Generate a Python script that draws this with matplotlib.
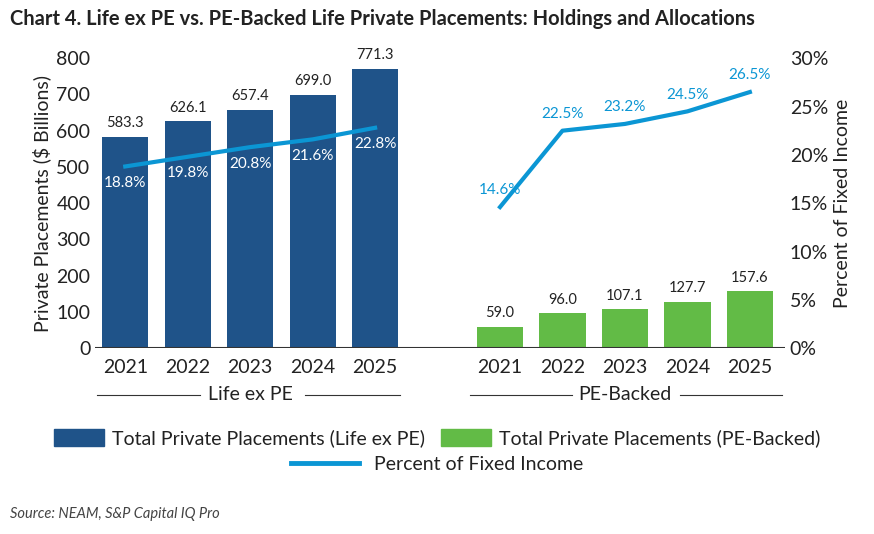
import matplotlib.pyplot as plt
from matplotlib.patches import Patch
from matplotlib.lines import Line2D

years = ["2021", "2022", "2023", "2024", "2025"]
life_pp = [583.3, 626.1, 657.4, 699.0, 771.3]
life_pct = [18.8, 19.8, 20.8, 21.6, 22.8]
pe_pp = [59.0, 96.0, 107.1, 127.7, 157.6]
pe_pct = [14.6, 22.5, 23.2, 24.5, 26.5]

navy = "#1f5389"
green = "#62bb46"
cyan = "#0b96d4"
txt = "#222222"

plt.rcParams['font.family'] = ['Lato', 'DejaVu Sans']
fig = plt.figure(figsize=(8.74, 5.34), dpi=100)
ax = fig.add_axes([0.109, 0.348, 0.789, 0.543])
ax2 = ax.twinx()

x_life = [0, 1, 2, 3, 4]
x_pe = [6, 7, 8, 9, 10]
w = 0.74
ax.bar(x_life, life_pp, w, color=navy, zorder=2)
ax.bar(x_pe, pe_pp, w, color=green, zorder=2)
for x, v in zip(x_life + x_pe, life_pp + pe_pp):
    ax.text(x, v + 18, f"{v:.1f}", ha="center", va="bottom", fontsize=10.5, color=txt)

ax2.plot(x_life, life_pct, color=cyan, lw=3, zorder=3)
ax2.plot(x_pe, pe_pct, color=cyan, lw=3, zorder=3)
for x, v in zip(x_life, life_pct):
    ax2.text(x, v - 1.0, f"{v:.1f}%", ha="center", va="top", fontsize=11, color="white", zorder=4)
for x, v in zip(x_pe, pe_pct):
    ax2.text(x, v + 1.0, f"{v:.1f}%", ha="center", va="bottom", fontsize=11, color=cyan, zorder=4)

ax.set_xlim(-0.48, 10.56)
ax.set_ylim(0, 800)
ax2.set_ylim(0, 30)
ax.set_yticks(range(0, 801, 100))
ax2.set_yticks(range(0, 31, 5))
ax2.set_yticklabels([f"{t}%" for t in range(0, 31, 5)])
ax.set_xticks(x_life + x_pe)
ax.set_xticklabels(years + years)
for a in (ax, ax2):
    a.tick_params(length=0, labelsize=14, colors=txt)
    for s in ("top", "left", "right", "bottom"):
        a.spines[s].set_visible(False)
ax.axhline(0, color="#333333", lw=1.5, zorder=5)
ax.tick_params(axis="x", pad=8)
ax.set_ylabel("Private Placements ($ Billions)", fontsize=14, color=txt)
ax2.set_ylabel("Percent of Fixed Income", fontsize=14, color=txt)

# group labels under the year ticks
for cx, label, l0, l1, r0, r1 in [(2, "Life ex PE", 97, 200, 305, 400),
                                   (8, "PE-Backed", 470, 572, 680, 782)]:
    xf = (95 + (cx + 0.48) / 11.04 * 690) / 874
    fig.text(xf, 1 - 395 / 534, label, ha="center", va="center", fontsize=14, color=txt)
    for a0, a1 in ((l0, l1), (r0, r1)):
        fig.add_artist(Line2D([a0 / 874, a1 / 874], [1 - 395 / 534] * 2, color="#333333", lw=0.8))

fig.text(0.012, 0.965, "Chart 4. Life ex PE vs. PE-Backed Life Private Placements: Holdings and Allocations",
         fontsize=14.5, fontweight="bold", color=txt, va="center")
fig.text(0.012, 0.03, "Source: NEAM, S&P Capital IQ Pro", fontsize=10.5, style="italic", color="#444444")

fig.legend(handles=[Patch(color=navy), Patch(color=green)],
           labels=["Total Private Placements (Life ex PE)", "Total Private Placements (PE-Backed)"],
           loc="center", bbox_to_anchor=(0.5, 0.18), ncol=2, frameon=False, fontsize=14,
           handlelength=2.6, handleheight=1.0, handletextpad=0.4, columnspacing=0.8, labelcolor=txt)
fig.legend(handles=[Line2D([], [], color=cyan, lw=3.5)], labels=["Percent of Fixed Income"],
           loc="center", bbox_to_anchor=(0.5, 0.13), frameon=False, fontsize=14,
           handlelength=3.5, labelcolor=txt)

fig.savefig("out.png", dpi=100)
